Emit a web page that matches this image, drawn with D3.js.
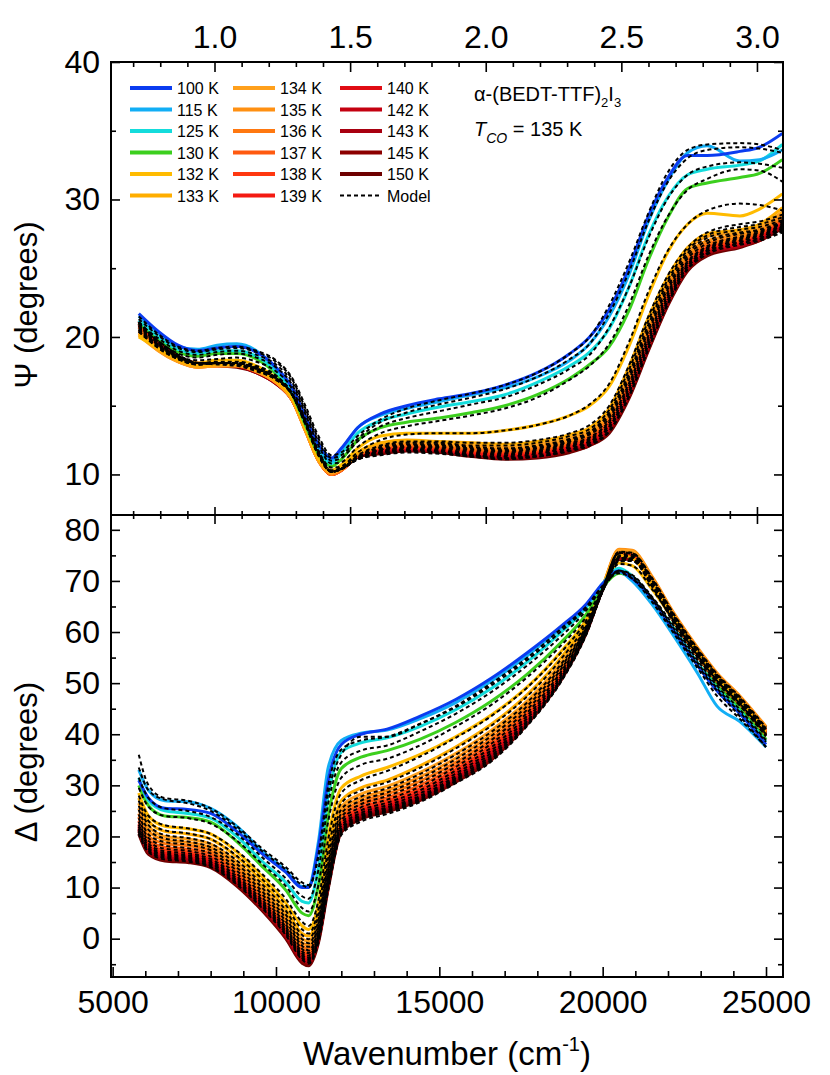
<!DOCTYPE html>
<html><head><meta charset="utf-8">
<script src="https://cdn.jsdelivr.net/npm/d3@7"></script>
<style>body{margin:0;background:#fff}svg{display:block}text{font-family:"Liberation Sans",Arial,sans-serif;fill:#000}</style>
</head><body>
<script>
// ---------------- data ----------------
const temperatures = ["100 K","115 K","125 K","130 K","132 K","133 K","134 K","135 K","136 K","137 K","138 K","139 K","140 K","142 K","143 K","145 K","150 K"];
const seriesColors = ["#0a3cf0","#12aef5","#14dcdc","#3ccf1e","#ffbb00","#ffae00","#ffa01c","#ff9012","#ff7810","#ff5a10","#ff3810","#f41a12","#e00c14","#c40010","#a80010","#8c0000","#6e0000"];

const wnPsi = [5800,6400,7000,7600,8200,8800,9400,10000,10500,10900,11300,11700,12000,12500,13200,14000,15000,16000,17000,18000,19000,19600,20200,20800,21400,22000,22600,23200,24200,24800,25500];
const psiMeasured = [
 [21.7,20.4,19.4,19.0,19.2,19.3,18.9,17.8,16.3,14.2,12.2,11.2,11.9,13.4,14.4,15.0,15.5,15.9,16.5,17.4,18.8,20.0,22.0,25.0,28.8,31.6,33.2,33.2,33.5,33.8,34.8],
 [21.5,20.3,19.3,19.1,19.4,19.5,19.0,17.7,16.2,14.0,12.0,11.0,11.8,13.4,14.3,14.8,15.3,15.8,16.3,17.1,18.3,19.5,21.5,24.5,28.4,31.4,33.4,33.9,32.8,32.9,33.6],
 [21.2,20.0,19.1,18.8,19.0,19.0,18.6,17.5,16.0,13.8,11.8,10.8,11.5,13.0,13.9,14.4,14.9,15.3,15.8,16.7,17.9,18.9,20.6,23.6,27.4,30.2,31.8,32.2,32.5,32.8,34.0],
 [21.0,19.8,18.9,18.6,18.8,18.8,18.4,17.3,15.8,13.6,11.5,10.6,11.1,12.5,13.4,13.8,14.1,14.5,15.0,15.8,17.0,18.0,19.3,21.9,25.6,28.7,30.8,31.2,31.6,31.9,32.9],
 [20.0,19.2,18.5,18.1,18.3,18.3,17.9,17.0,15.6,13.4,11.2,10.3,10.7,11.9,12.8,13.0,13.0,13.0,13.2,13.6,14.3,15.0,16.4,19.3,23.0,26.2,28.2,29.0,28.8,29.3,30.4],
 [20.2,19.1,18.3,17.9,18.0,18.0,17.6,16.8,15.5,13.3,11.1,10.2,10.5,11.6,12.3,12.5,12.4,12.3,12.2,12.4,12.9,13.4,14.8,17.8,21.4,24.4,26.5,27.5,27.8,28.2,29.4],
 [20.1,19.0,18.2,17.8,17.9,17.9,17.5,16.7,15.4,13.2,11.0,10.1,10.4,11.5,12.2,12.4,12.3,12.1,12.0,12.2,12.7,13.2,14.6,17.5,21.1,24.2,26.3,27.3,27.6,28.0,29.1],
 [20.3,19.0,18.2,17.8,17.9,17.9,17.5,16.7,15.4,13.2,11.0,10.1,10.4,11.5,12.1,12.3,12.2,12.0,11.9,12.1,12.5,13.0,14.4,17.2,20.8,23.9,26.0,27.0,27.4,27.8,28.9],
 [20.5,19.1,18.2,17.8,17.9,17.9,17.5,16.7,15.4,13.2,11.0,10.0,10.3,11.4,12.0,12.2,12.1,11.9,11.8,11.9,12.4,12.9,14.2,17.0,20.5,23.6,25.8,26.8,27.2,27.7,28.7],
 [20.7,19.2,18.3,17.9,17.9,17.9,17.5,16.7,15.4,13.2,11.0,10.0,10.3,11.4,12.0,12.1,12.0,11.8,11.7,11.8,12.3,12.8,14.0,16.8,20.3,23.4,25.6,26.7,27.1,27.6,28.6],
 [20.8,19.3,18.4,17.9,17.9,17.9,17.5,16.7,15.4,13.2,11.0,10.0,10.3,11.4,11.9,12.0,11.9,11.7,11.6,11.7,12.2,12.6,13.8,16.5,20.0,23.2,25.4,26.5,27.0,27.5,28.5],
 [20.9,19.3,18.4,18.0,18.0,17.9,17.5,16.7,15.4,13.3,11.1,10.0,10.3,11.4,11.9,12.0,11.9,11.6,11.5,11.6,12.1,12.5,13.7,16.3,19.8,23.0,25.3,26.4,26.9,27.4,28.4],
 [21.0,19.4,18.5,18.0,18.0,17.9,17.5,16.7,15.4,13.3,11.1,10.0,10.3,11.4,11.8,11.9,11.8,11.5,11.4,11.5,12.0,12.4,13.5,16.1,19.6,22.8,25.2,26.3,26.8,27.3,28.3],
 [21.1,19.5,18.5,18.0,18.0,17.9,17.5,16.7,15.4,13.3,11.1,10.0,10.3,11.3,11.7,11.9,11.8,11.5,11.3,11.4,11.9,12.3,13.4,15.9,19.4,22.6,25.1,26.2,26.7,27.2,28.2],
 [21.1,19.5,18.5,18.0,18.0,17.9,17.4,16.6,15.4,13.3,11.2,10.0,10.3,11.3,11.7,11.8,11.7,11.4,11.2,11.3,11.8,12.2,13.3,15.8,19.3,22.5,25.0,26.1,26.6,27.1,28.1],
 [21.2,19.6,18.6,18.1,18.0,17.9,17.4,16.6,15.4,13.4,11.3,10.0,10.4,11.3,11.6,11.8,11.7,11.4,11.2,11.3,11.7,12.1,13.1,15.6,19.1,22.4,24.9,26.0,26.6,27.0,28.0],
 [21.0,19.6,18.6,18.0,17.9,17.8,17.4,16.6,15.5,13.5,11.4,10.0,10.4,11.3,11.5,11.7,11.6,11.3,11.1,11.2,11.6,12.1,13.0,15.5,19.0,22.3,24.8,25.9,26.5,27.0,27.9]
];
const psiModel = [
 [21.5,20.2,19.3,19.0,19.2,19.3,19.0,18.3,17.0,15.0,12.8,11.4,11.6,12.8,14.0,14.8,15.4,15.9,16.5,17.4,18.8,20.0,22.3,25.4,29.0,32.0,33.6,34.0,34.1,34.0,33.6],
 [21.3,20.1,19.2,18.9,19.1,19.2,18.9,18.2,16.9,14.8,12.6,11.2,11.4,12.6,13.8,14.5,15.1,15.6,16.2,17.1,18.4,19.5,21.7,24.7,28.4,31.3,33.0,33.6,33.8,33.7,33.4],
 [21.0,19.9,19.0,18.7,18.9,19.0,18.7,18.0,16.7,14.6,12.4,11.0,11.2,12.4,13.5,14.1,14.6,15.1,15.6,16.5,17.7,18.7,20.7,23.6,27.2,30.1,31.8,32.4,32.7,32.6,32.3],
 [20.8,19.7,18.8,18.5,18.7,18.8,18.5,17.8,16.5,14.4,12.1,10.8,10.9,12.0,13.0,13.5,13.9,14.3,14.8,15.6,16.9,17.9,19.5,22.3,25.9,28.8,30.7,31.5,32.2,32.1,31.3],
 [20.5,19.4,18.6,18.3,18.4,18.5,18.2,17.5,16.2,14.0,11.7,10.5,10.6,11.6,12.5,12.9,13.0,13.0,13.2,13.6,14.3,15.1,16.6,19.6,23.3,26.3,28.2,29.2,29.7,29.6,29.2],
 [20.4,19.3,18.5,18.1,18.2,18.2,17.9,17.2,15.9,13.8,11.5,10.3,10.5,11.4,12.1,12.4,12.4,12.3,12.3,12.5,13.0,13.6,15.0,17.9,21.5,24.5,26.5,27.6,28.2,28.4,28.9],
 [20.4,19.2,18.4,18.0,18.1,18.1,17.8,17.1,15.8,13.7,11.4,10.2,10.4,11.3,12.0,12.3,12.3,12.1,12.1,12.3,12.8,13.3,14.7,17.6,21.2,24.2,26.3,27.4,28.0,28.2,28.7],
 [20.4,19.2,18.4,18.0,18.1,18.1,17.8,17.1,15.8,13.7,11.4,10.2,10.4,11.3,11.9,12.2,12.2,12.0,11.9,12.1,12.6,13.1,14.5,17.3,20.9,24.0,26.1,27.2,27.8,28.0,28.5],
 [20.5,19.3,18.4,18.0,18.1,18.1,17.7,17.0,15.8,13.7,11.4,10.2,10.4,11.2,11.8,12.1,12.1,11.9,11.8,12.0,12.5,13.0,14.3,17.1,20.6,23.7,25.9,27.0,27.6,27.8,28.4],
 [20.6,19.4,18.5,18.1,18.1,18.1,17.7,17.0,15.8,13.7,11.5,10.2,10.4,11.2,11.8,12.0,12.0,11.8,11.7,11.9,12.4,12.9,14.1,16.9,20.4,23.5,25.7,26.8,27.5,27.7,28.3],
 [20.7,19.4,18.5,18.1,18.1,18.1,17.7,17.0,15.8,13.7,11.5,10.2,10.4,11.2,11.7,11.9,11.9,11.7,11.6,11.8,12.3,12.7,13.9,16.6,20.1,23.3,25.5,26.6,27.3,27.6,28.2],
 [20.8,19.5,18.6,18.1,18.1,18.1,17.7,17.0,15.8,13.8,11.5,10.2,10.4,11.2,11.7,11.9,11.8,11.6,11.5,11.7,12.2,12.6,13.8,16.4,19.9,23.1,25.4,26.5,27.2,27.5,28.1],
 [20.9,19.5,18.6,18.1,18.1,18.0,17.7,17.0,15.8,13.8,11.6,10.2,10.4,11.2,11.6,11.8,11.7,11.5,11.4,11.6,12.1,12.5,13.6,16.2,19.7,22.9,25.3,26.4,27.1,27.4,28.0],
 [21.0,19.6,18.6,18.1,18.1,18.0,17.7,17.0,15.8,13.8,11.6,10.2,10.4,11.1,11.6,11.8,11.7,11.4,11.3,11.5,12.0,12.4,13.5,16.0,19.5,22.7,25.2,26.3,27.0,27.3,27.9],
 [21.0,19.6,18.6,18.1,18.1,18.0,17.6,16.9,15.8,13.8,11.6,10.2,10.4,11.1,11.5,11.7,11.6,11.4,11.2,11.4,11.9,12.3,13.4,15.9,19.4,22.6,25.1,26.2,26.9,27.2,27.8],
 [21.1,19.7,18.7,18.1,18.1,18.0,17.6,16.9,15.8,13.9,11.7,10.2,10.4,11.1,11.5,11.7,11.6,11.3,11.2,11.3,11.8,12.2,13.2,15.7,19.2,22.5,25.0,26.1,26.8,27.1,27.7],
 [21.1,19.7,18.7,18.1,18.0,17.9,17.5,16.9,15.8,13.9,11.7,10.2,10.4,11.1,11.4,11.6,11.5,11.3,11.1,11.3,11.7,12.1,13.1,15.6,19.1,22.4,24.9,26.0,26.7,27.0,27.6]
];

const wnDelta = [5800,6100,6600,7300,8000,8800,9600,10300,10800,11000,11300,11600,12000,12600,13400,14400,15500,16600,17700,18700,19500,20000,20500,20900,21500,22200,22900,23500,24200,25000];
const deltaMeasured = [
 [31.0,27.5,25.5,25.3,24.5,21.0,16.5,13.0,10.0,10.0,18.0,31.0,38.0,40.0,41.0,43.5,46.8,51.0,56.0,61.0,65.5,69.5,72.0,70.5,66.5,60.0,53.5,48.5,44.0,38.0],
 [33.0,29.0,27.0,26.8,25.5,22.0,17.0,13.3,10.2,10.3,19.0,33.5,38.8,40.2,40.8,43.0,46.2,50.4,55.4,60.6,65.2,69.3,71.8,70.0,65.5,59.0,52.0,45.5,42.5,37.5],
 [31.5,27.0,25.0,24.5,23.6,20.0,15.0,11.0,7.3,7.0,14.0,28.0,36.5,38.3,39.3,41.5,44.8,49.0,54.2,59.8,64.8,69.5,72.5,71.0,66.5,60.5,54.0,49.0,44.5,38.5],
 [30.0,26.0,24.0,23.7,22.8,19.0,14.0,9.5,5.0,4.5,10.5,24.0,33.3,35.5,36.8,39.0,42.3,46.5,51.8,57.8,63.5,68.7,71.5,70.5,66.5,60.5,54.0,49.5,45.0,39.0],
 [28.5,24.0,22.0,21.5,20.5,17.0,12.0,7.0,2.5,1.8,7.0,20.0,29.5,31.8,33.5,36.0,39.5,43.8,49.3,56.0,62.5,68.8,73.5,73.0,68.5,62.0,55.5,50.5,46.0,40.0],
 [27.5,23.0,21.0,20.5,19.5,16.0,11.0,5.8,1.0,0.5,5.5,17.5,27.0,29.5,31.0,33.8,37.5,42.0,47.8,54.8,62.0,69.0,75.0,74.5,69.5,62.5,56.0,51.0,46.5,40.5],
 [26.5,22.0,20.0,19.5,18.5,15.0,10.0,4.8,0.0,-0.5,4.5,16.0,25.8,28.3,29.8,32.5,36.2,40.8,46.6,53.8,61.5,69.0,76.0,75.8,70.5,63.0,56.5,51.5,47.0,41.0],
 [25.5,21.0,19.3,18.8,17.8,14.3,9.3,4.0,-0.8,-1.3,3.5,15.0,25.0,27.5,29.0,31.6,35.3,40.0,45.9,53.3,61.2,68.9,76.2,76.0,71.0,63.5,57.0,52.0,47.5,41.5],
 [24.5,20.0,18.6,18.2,17.2,13.6,8.6,3.3,-1.5,-2.0,2.7,14.0,24.3,26.8,28.3,30.8,34.5,39.2,45.2,52.8,61.0,68.8,76.0,75.8,70.8,63.3,56.8,51.8,47.3,41.2],
 [23.8,19.3,17.9,17.5,16.6,13.0,8.0,2.7,-2.1,-2.7,2.0,13.2,23.7,26.2,27.6,30.0,33.8,38.5,44.6,52.3,60.8,68.7,75.7,75.5,70.5,63.0,56.5,51.5,47.0,41.0],
 [23.0,18.7,17.3,17.0,16.0,12.4,7.4,2.1,-2.7,-3.2,1.4,12.5,23.1,25.6,27.0,29.3,33.1,37.8,44.0,51.8,60.6,68.6,75.3,75.2,70.2,62.7,56.2,51.2,46.7,40.7],
 [22.4,18.2,16.8,16.5,15.5,11.9,6.9,1.6,-3.2,-3.7,0.9,11.9,22.6,25.1,26.5,28.7,32.5,37.2,43.5,51.4,60.4,68.5,75.0,75.0,70.0,62.5,56.0,51.0,46.5,40.5],
 [22.0,17.8,16.4,16.1,15.1,11.5,6.5,1.2,-3.6,-4.1,0.5,11.4,22.2,24.7,26.1,28.2,32.0,36.7,43.0,51.0,60.3,68.5,74.8,74.8,69.8,62.3,55.8,50.8,46.3,40.3],
 [21.6,17.4,16.1,15.8,14.8,11.2,6.2,0.9,-3.9,-4.4,0.2,11.0,21.8,24.4,25.8,27.9,31.6,36.2,42.7,50.8,60.2,68.5,74.6,74.6,69.6,62.1,55.6,50.6,46.1,40.1],
 [21.3,17.1,15.8,15.5,14.5,10.9,5.9,0.6,-4.2,-4.7,-0.1,10.6,21.5,24.1,25.5,27.6,31.3,35.8,42.4,50.6,60.1,68.4,74.4,74.5,69.5,62.0,55.5,50.5,46.0,40.0],
 [21.0,16.8,15.5,15.2,14.2,10.6,5.6,0.3,-4.5,-5.0,-0.4,10.2,21.2,23.8,25.2,27.3,31.0,35.4,42.2,50.5,60.0,68.4,74.3,74.4,69.4,61.9,55.4,50.4,45.9,39.9],
 [20.5,16.5,15.2,14.9,13.9,10.3,5.3,0.0,-4.8,-5.3,-0.8,9.8,20.8,23.4,24.8,27.0,30.6,35.0,42.0,50.3,59.8,68.3,74.2,74.3,69.3,61.8,55.3,50.3,45.8,39.8]
];
const deltaModel = [
 [36.0,30.0,27.5,27.0,25.5,22.0,17.5,14.0,11.0,10.5,16.0,28.5,36.0,39.5,39.5,42.0,45.5,50.0,55.0,60.5,65.0,69.0,71.5,70.5,66.5,60.0,53.5,48.5,43.5,37.5],
 [33.5,29.0,27.2,26.5,25.0,21.5,17.0,13.5,10.5,10.0,16.5,30.0,37.0,38.8,39.5,42.0,45.3,49.6,54.6,60.0,64.8,69.0,71.8,70.5,66.0,59.5,53.0,47.5,43.0,37.5],
 [31.5,27.5,25.5,25.0,23.8,20.5,15.8,11.8,8.3,7.8,13.5,26.5,34.5,36.8,37.8,40.5,44.0,48.3,53.5,59.0,64.3,68.8,72.0,71.0,66.8,60.5,54.0,49.0,44.3,38.5],
 [29.5,25.8,24.0,23.6,22.5,19.2,14.5,10.3,6.0,5.3,10.5,23.0,31.5,34.0,35.2,37.8,41.5,45.8,51.2,57.2,63.0,68.3,72.0,71.2,67.0,61.0,54.5,49.5,44.8,38.8],
 [28.0,24.0,22.2,21.6,20.5,17.2,12.5,7.8,3.3,2.5,7.5,19.5,28.5,31.0,32.8,35.6,39.3,43.6,49.2,55.8,62.3,68.3,73.3,73.0,68.5,62.0,55.5,50.5,46.0,40.0],
 [27.0,23.0,21.2,20.6,19.5,16.2,11.5,6.6,1.8,1.0,5.8,17.5,26.5,29.0,30.6,33.4,37.2,41.7,47.5,54.5,61.7,68.5,74.5,74.3,69.5,62.5,56.0,51.0,46.5,40.5],
 [26.0,22.2,20.3,19.7,18.6,15.3,10.5,5.5,0.7,-0.1,4.6,15.8,25.3,27.8,29.4,32.2,36.0,40.5,46.3,53.5,61.2,68.6,75.5,75.3,70.3,63.0,56.5,51.5,47.0,41.0],
 [25.2,21.3,19.6,19.0,17.9,14.6,9.8,4.7,-0.1,-0.9,3.6,14.8,24.5,27.0,28.6,31.3,35.1,39.7,45.6,53.0,60.9,68.5,75.7,75.5,70.7,63.3,56.8,51.8,47.3,41.3],
 [24.3,20.4,18.9,18.4,17.3,13.9,9.1,4.0,-0.8,-1.6,2.8,13.8,23.8,26.3,27.9,30.5,34.3,38.9,44.9,52.5,60.7,68.4,75.6,75.4,70.5,63.1,56.6,51.6,47.1,41.0],
 [23.6,19.7,18.2,17.7,16.7,13.3,8.5,3.4,-1.4,-2.3,2.1,13.0,23.2,25.7,27.2,29.7,33.6,38.2,44.3,52.0,60.5,68.3,75.3,75.1,70.2,62.8,56.3,51.3,46.8,40.8],
 [22.9,19.1,17.6,17.2,16.1,12.7,7.9,2.8,-2.0,-2.8,1.5,12.3,22.6,25.1,26.6,29.0,32.9,37.5,43.7,51.5,60.3,68.2,74.9,74.8,69.9,62.5,56.0,51.0,46.5,40.5],
 [22.3,18.6,17.1,16.7,15.6,12.2,7.4,2.3,-2.5,-3.3,1.0,11.7,22.1,24.6,26.1,28.4,32.3,36.9,43.2,51.1,60.1,68.1,74.6,74.6,69.7,62.3,55.8,50.8,46.3,40.3],
 [21.9,18.2,16.7,16.3,15.2,11.8,7.0,1.9,-2.9,-3.7,0.6,11.2,21.7,24.2,25.7,27.9,31.8,36.4,42.7,50.7,60.0,68.1,74.4,74.4,69.5,62.1,55.6,50.6,46.1,40.1],
 [21.5,17.8,16.4,16.0,14.9,11.5,6.7,1.6,-3.2,-4.0,0.3,10.8,21.3,23.9,25.4,27.6,31.4,35.9,42.4,50.5,59.9,68.1,74.2,74.2,69.3,61.9,55.4,50.4,45.9,39.9],
 [21.2,17.5,16.1,15.7,14.6,11.2,6.4,1.3,-3.5,-4.3,0.0,10.4,21.0,23.6,25.1,27.3,31.1,35.5,42.1,50.3,59.8,68.0,74.0,74.1,69.2,61.8,55.3,50.3,45.8,39.8],
 [20.9,17.2,15.8,15.4,14.3,10.9,6.1,1.0,-3.8,-4.6,-0.3,10.0,20.7,23.3,24.8,27.0,30.8,35.1,41.9,50.2,59.7,68.0,73.9,74.0,69.1,61.7,55.2,50.2,45.7,39.7],
 [20.5,16.9,15.5,15.1,14.0,10.6,5.8,0.7,-4.1,-4.9,-0.7,9.6,20.3,22.9,24.4,26.7,30.4,34.7,41.7,50.0,59.5,67.9,73.8,73.9,69.0,61.6,55.1,50.1,45.6,39.6]
];

const eVTicks = [1.0,1.5,2.0,2.5,3.0];
const eVMinor = [0.7,0.8,0.9,1.1,1.2,1.3,1.4,1.6,1.7,1.8,1.9,2.1,2.2,2.3,2.4,2.6,2.7,2.8,2.9];
const wnTicks = [5000,10000,15000,20000,25000];
const wnMinor = [6000,7000,8000,9000,11000,12000,13000,14000,16000,17000,18000,19000,21000,22000,23000,24000];
const psiTicks = [10,20,30,40];
const psiMinor = [15,25,35];
const deltaTicks = [0,10,20,30,40,50,60,70,80];
const deltaMinor = [-5,5,15,25,35,45,55,65,75];

// ---------------- layout ----------------
const L = 111, R = 783, T1 = 62, MID = 515, B2 = 977;
const FONT = 32;

const svg = d3.select("body").append("svg").attr("width", 830).attr("height", 1075);
svg.append("rect").attr("width", 830).attr("height", 1075).attr("fill", "#fff");

const x = d3.scaleLinear().domain([4950, 25520]).range([L, R]);
const eV = d3.scaleLinear().domain([0.6184, 3.096]).range([L, R]);
const yPsi = d3.scaleLinear().domain([7.05, 40]).range([MID, T1]);
const yDel = d3.scaleLinear().domain([-7.5, 82.9]).range([B2, MID]);

const defs = svg.append("defs");
defs.append("clipPath").attr("id", "clipTop").append("rect").attr("x", L).attr("y", T1).attr("width", R - L).attr("height", MID - T1);
defs.append("clipPath").attr("id", "clipBot").append("rect").attr("x", L).attr("y", MID).attr("width", R - L).attr("height", B2 - MID);

function drawPanel(clipId, wn, measured, model, y) {
  const g = svg.append("g").attr("clip-path", `url(#${clipId})`);
  const line = d3.line().x((d, i) => x(wn[i])).y(d => y(d)).curve(d3.curveMonotoneX);
  const order = d3.range(measured.length).reverse();
  order.forEach(i => {
    g.append("path").attr("d", line(measured[i])).attr("fill", "none")
      .attr("stroke", seriesColors[i]).attr("stroke-width", 3).attr("stroke-linejoin", "round");
  });
  order.forEach(i => {
    g.append("path").attr("d", line(model[i])).attr("fill", "none")
      .attr("stroke", "#000").attr("stroke-width", 2).attr("stroke-dasharray", "4,3");
  });
}
drawPanel("clipTop", wnPsi, psiMeasured, psiModel, yPsi);
drawPanel("clipBot", wnDelta, deltaMeasured, deltaModel, yDel);

// ---------------- axes ----------------
function styleAxis(g, labels) {
  g.select(".domain").remove();
  g.selectAll(".tick line").attr("stroke", "#000").attr("stroke-width", 1.6);
  if (labels) g.selectAll(".tick text").attr("font-size", FONT).attr("fill", "#000");
  else g.selectAll(".tick text").remove();
}
// left / right
[[yPsi, psiTicks, psiMinor], [yDel, deltaTicks, deltaMinor]].forEach(([ys, maj, min]) => {
  svg.append("g").attr("transform", `translate(${L},0)`)
    .call(d3.axisLeft(ys).tickValues(maj).tickSize(-9).tickPadding(11).tickFormat(d3.format("d"))).call(g => styleAxis(g, true));
  svg.append("g").attr("transform", `translate(${L},0)`)
    .call(d3.axisLeft(ys).tickValues(min).tickSize(-5)).call(g => styleAxis(g, false));
  svg.append("g").attr("transform", `translate(${R},0)`)
    .call(d3.axisRight(ys).tickValues(maj).tickSize(-9)).call(g => styleAxis(g, false));
  svg.append("g").attr("transform", `translate(${R},0)`)
    .call(d3.axisRight(ys).tickValues(min).tickSize(-5)).call(g => styleAxis(g, false));
});
// bottom wavenumber
svg.append("g").attr("transform", `translate(0,${B2})`)
  .call(d3.axisBottom(x).tickValues(wnTicks).tickSize(-10).tickPadding(13).tickFormat(d3.format("d"))).call(g => styleAxis(g, true));
svg.append("g").attr("transform", `translate(0,${B2})`)
  .call(d3.axisBottom(x).tickValues(wnMinor).tickSize(-6)).call(g => styleAxis(g, false));
// top eV
svg.append("g").attr("transform", `translate(0,${T1})`)
  .call(d3.axisTop(eV).tickValues(eVTicks).tickSize(-10).tickPadding(14).tickFormat(d3.format(".1f"))).call(g => styleAxis(g, true));
svg.append("g").attr("transform", `translate(0,${T1})`)
  .call(d3.axisTop(eV).tickValues(eVMinor).tickSize(-5)).call(g => styleAxis(g, false));
// middle (eV ticks both directions)
svg.append("g").attr("transform", `translate(0,${MID})`)
  .call(d3.axisTop(eV).tickValues(eVTicks).tickSize(8)).call(g => styleAxis(g, false));
svg.append("g").attr("transform", `translate(0,${MID})`)
  .call(d3.axisBottom(eV).tickValues(eVTicks).tickSize(9)).call(g => styleAxis(g, false));
svg.append("g").attr("transform", `translate(0,${MID})`)
  .call(d3.axisTop(eV).tickValues(eVMinor).tickSize(4)).call(g => styleAxis(g, false));
svg.append("g").attr("transform", `translate(0,${MID})`)
  .call(d3.axisBottom(eV).tickValues(eVMinor).tickSize(4)).call(g => styleAxis(g, false));

// frames
svg.append("rect").attr("x", L).attr("y", T1).attr("width", R - L).attr("height", MID - T1)
  .attr("fill", "none").attr("stroke", "#000").attr("stroke-width", 2);
svg.append("rect").attr("x", L).attr("y", MID).attr("width", R - L).attr("height", B2 - MID)
  .attr("fill", "none").attr("stroke", "#000").attr("stroke-width", 2);

// axis titles
svg.append("text").attr("transform", `translate(37,305) rotate(-90)`).attr("text-anchor", "middle")
  .attr("font-size", 31).text("Ψ (degrees)");
svg.append("text").attr("transform", `translate(37,762) rotate(-90)`).attr("text-anchor", "middle")
  .attr("font-size", 31).text("Δ (degrees)");
const xt = svg.append("text").attr("x", (L + R) / 2).attr("y", 1065).attr("text-anchor", "middle").attr("font-size", 33);
xt.append("tspan").text("Wavenumber (cm");
xt.append("tspan").attr("font-size", 20).attr("dy", -14).text("-1");
xt.append("tspan").attr("dy", 14).text(")");

// ---------------- legend ----------------
const colX = [130, 233, 340];
const rowY = [88, 109.5, 131, 152.5, 174, 195.5];
const leg = svg.append("g");
temperatures.forEach((t, i) => {
  const c = Math.floor(i / 6), r = i % 6;
  leg.append("line").attr("x1", colX[c]).attr("x2", colX[c] + 42).attr("y1", rowY[r]).attr("y2", rowY[r])
    .attr("stroke", seriesColors[i]).attr("stroke-width", 4);
  leg.append("text").attr("x", colX[c] + 47).attr("y", rowY[r] + 6).attr("font-size", 16).text(t);
});
leg.append("line").attr("x1", colX[2]).attr("x2", colX[2] + 42).attr("y1", rowY[5]).attr("y2", rowY[5])
  .attr("stroke", "#000").attr("stroke-width", 2).attr("stroke-dasharray", "4,3");
leg.append("text").attr("x", colX[2] + 47).attr("y", rowY[5] + 6).attr("font-size", 16).text("Model");

// ---------------- annotation ----------------
const a1 = svg.append("text").attr("x", 474).attr("y", 101).attr("font-size", 20);
a1.append("tspan").text("α-(BEDT-TTF)");
a1.append("tspan").attr("font-size", 13).attr("dy", 6).text("2");
a1.append("tspan").attr("dy", -6).text("I");
a1.append("tspan").attr("font-size", 13).attr("dy", 6).text("3");
const a2 = svg.append("text").attr("x", 474).attr("y", 136).attr("font-size", 20);
a2.append("tspan").attr("font-style", "italic").text("T");
a2.append("tspan").attr("font-style", "italic").attr("font-size", 14).attr("dy", 7).text("CO");
a2.append("tspan").attr("dy", -7).text(" = 135 K");
</script>
</body></html>
